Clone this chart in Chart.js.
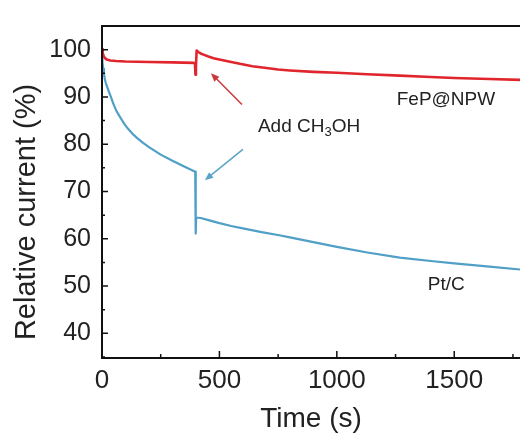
<!DOCTYPE html>
<html>
<head>
<meta charset="utf-8">
<script src="https://cdn.jsdelivr.net/npm/chart.js@4.4.1/dist/chart.umd.min.js"></script>
<style>
    html, body { margin: 0; padding: 0; background: #fff; }
    #wrap { width: 520px; height: 433px; }
</style>
</head>
<body>
<div id="wrap"><canvas id="chartCA"></canvas></div>
<script>
// FeP@NPW (red) chronoamperometry
const fepTime = [0, 2, 4, 7, 10, 15, 20, 28, 35, 60, 100, 200, 300, 390, 396, 398, 400, 403, 410, 420, 435, 450, 475, 500, 540, 587, 640, 700, 750, 800, 900, 1000, 1130, 1268, 1400, 1500, 1650, 1780];
const fepCurrent = [100.1, 99.7, 99.2, 98.7, 98.4, 98.1, 97.9, 97.8, 97.7, 97.6, 97.5, 97.4, 97.3, 97.2, 97.1, 94.7, 96.5, 99.8, 99.5, 99.2, 98.9, 98.6, 98.2, 97.9, 97.5, 97.0, 96.5, 96.1, 95.8, 95.6, 95.3, 95.1, 94.8, 94.5, 94.2, 94.0, 93.8, 93.6];

// Pt/C (blue)
const ptTime = [0, 2, 5, 8, 12, 16, 20, 25, 30, 38, 45, 52, 60, 70, 80, 95, 110, 130, 150, 175, 200, 250, 300, 350, 397, 399, 401, 420, 450, 500, 550, 600, 680, 760, 800, 900, 1000, 1130, 1268, 1400, 1500, 1650, 1780];
const ptCurrent = [98.5, 97.3, 96.0, 95.0, 93.8, 93.0, 92.4, 91.7, 91.0, 90.0, 89.0, 88.1, 87.2, 86.3, 85.5, 84.3, 83.3, 82.2, 81.3, 80.3, 79.4, 77.8, 76.5, 75.3, 74.2, 61.1, 64.5, 64.4, 64.0, 63.3, 62.7, 62.2, 61.4, 60.7, 60.3, 59.3, 58.3, 57.1, 56.0, 55.3, 54.8, 54.1, 53.5];

const xTicks = [0, 500, 1000, 1500];
const xMinor = [250, 750, 1250, 1750];
const yTicks = [40, 50, 60, 70, 80, 90, 100];
const yMinor = [35, 45, 55, 65, 75, 85, 95, 105];

const redColor = "#e0262c";
const blueColor = "#4f9fc6";
const fontFamily = "'Liberation Sans', Arial, sans-serif";

const toPoints = (xs, ys) => xs.map((x, i) => ({x: x, y: ys[i]}));

// axis box, inward ticks, annotations and the rotated y title
const frame = {
    id: "frame",
    afterDraw(chart) {
        const ctx = chart.ctx;
        const a = chart.chartArea;
        const xs = chart.scales.x;
        const ys = chart.scales.y;
        ctx.save();
        ctx.strokeStyle = "#111";
        ctx.lineWidth = 2;
        ctx.beginPath();
        ctx.moveTo(a.left, a.top);
        ctx.lineTo(a.right + 2, a.top);
        ctx.moveTo(a.left, a.top - 1);
        ctx.lineTo(a.left, a.bottom + 1);
        ctx.lineTo(a.right + 2, a.bottom + 1);
        ctx.stroke();

        ctx.lineWidth = 1.5;
        ctx.beginPath();
        xTicks.forEach(v => {
            const px = xs.getPixelForValue(v);
            ctx.moveTo(px, a.bottom); ctx.lineTo(px, a.bottom - 6);
        });
        xMinor.forEach(v => {
            const px = xs.getPixelForValue(v);
            ctx.moveTo(px, a.bottom); ctx.lineTo(px, a.bottom - 3);
        });
        yTicks.forEach(v => {
            const py = ys.getPixelForValue(v);
            ctx.moveTo(a.left, py); ctx.lineTo(a.left + 6, py);
        });
        yMinor.forEach(v => {
            const py = ys.getPixelForValue(v);
            ctx.moveTo(a.left, py); ctx.lineTo(a.left + 3, py);
        });
        ctx.stroke();

        // arrows
        const arrow = (x0, y0, x1, y1, color) => {
            const p0 = [xs.getPixelForValue(x0), ys.getPixelForValue(y0)];
            const p1 = [xs.getPixelForValue(x1), ys.getPixelForValue(y1)];
            const ang = Math.atan2(p1[1] - p0[1], p1[0] - p0[0]);
            ctx.strokeStyle = color;
            ctx.fillStyle = color;
            ctx.lineWidth = 1.5;
            ctx.beginPath();
            ctx.moveTo(p0[0], p0[1]);
            ctx.lineTo(p1[0] - 6 * Math.cos(ang), p1[1] - 6 * Math.sin(ang));
            ctx.stroke();
            ctx.beginPath();
            ctx.moveTo(p1[0], p1[1]);
            ctx.lineTo(p1[0] - 9 * Math.cos(ang - 0.4), p1[1] - 9 * Math.sin(ang - 0.4));
            ctx.lineTo(p1[0] - 9 * Math.cos(ang + 0.4), p1[1] - 9 * Math.sin(ang + 0.4));
            ctx.closePath();
            ctx.fill();
        };
        arrow(596, 88.4, 464, 95.0, "#c9383c");
        arrow(600, 78.9, 438, 72.4, "#5aa3c6");

        // labels
        ctx.fillStyle = "#222";
        ctx.textBaseline = "middle";
        ctx.textAlign = "left";
        ctx.font = "19px " + fontFamily;
        let tx = xs.getPixelForValue(664);
        const ty = ys.getPixelForValue(83.6);
        ctx.fillText("Add CH", tx, ty);
        tx += ctx.measureText("Add CH").width;
        ctx.font = "13px " + fontFamily;
        ctx.fillText("3", tx, ty + 5);
        tx += ctx.measureText("3").width;
        ctx.font = "19px " + fontFamily;
        ctx.fillText("OH", tx, ty);

        ctx.fillText("FeP@NPW", xs.getPixelForValue(1255), ys.getPixelForValue(89.4));
        ctx.fillText("Pt/C", xs.getPixelForValue(1387), ys.getPixelForValue(50.2));

        // y axis title
        ctx.font = "29px " + fontFamily;
        ctx.textAlign = "center";
        ctx.translate(27, 212);
        ctx.rotate(-Math.PI / 2);
        ctx.fillText("Relative current (%)", 0, 0);
        ctx.restore();
    }
};

const caChart = new Chart(document.getElementById("chartCA").getContext("2d"), {
    type: "line",
    data: {
        datasets: [
            {
                label: "FeP@NPW",
                data: toPoints(fepTime, fepCurrent),
                borderColor: redColor,
                borderWidth: 2.6,
                borderJoinStyle: "round",
                pointRadius: 0,
                tension: 0,
                fill: false
            },
            {
                label: "Pt/C",
                data: toPoints(ptTime, ptCurrent),
                borderColor: blueColor,
                borderWidth: 2.2,
                borderJoinStyle: "round",
                pointRadius: 0,
                tension: 0,
                fill: false
            }
        ]
    },
    options: {
        responsive: true,
        maintainAspectRatio: false,
        animation: false,
        layout: {padding: {top: 16, right: 0, left: 0, bottom: 0}},
        plugins: {
            legend: {display: false},
            tooltip: {enabled: false}
        },
        scales: {
            x: {
                type: "linear",
                min: 0,
                max: 1780,
                afterBuildTicks: (scale) => { scale.ticks = xTicks.map(v => ({value: v})); },
                afterFit: (scale) => { scale.height = 76; },
                grid: {display: false, drawTicks: false},
                border: {display: false},
                ticks: {
                    color: "#222",
                    padding: 8,
                    maxRotation: 0,
                    callback: (v) => String(v),
                    font: {family: fontFamily, size: 26}
                },
                title: {
                    display: true,
                    text: "Time (s)",
                    color: "#222",
                    padding: {top: 0, bottom: 0},
                    font: {family: fontFamily, size: 28, lineHeight: 1.0}
                }
            },
            y: {
                min: 35,
                max: 105,
                afterBuildTicks: (scale) => { scale.ticks = yTicks.map(v => ({value: v})); },
                afterFit: (scale) => { scale.width = 102; },
                grid: {display: false, drawTicks: false},
                border: {display: false},
                ticks: {
                    color: "#222",
                    padding: 11,
                    callback: (v) => String(v),
                    font: {family: fontFamily, size: 25}
                }
            }
        }
    },
    plugins: [frame]
});
</script>
</body>
</html>
